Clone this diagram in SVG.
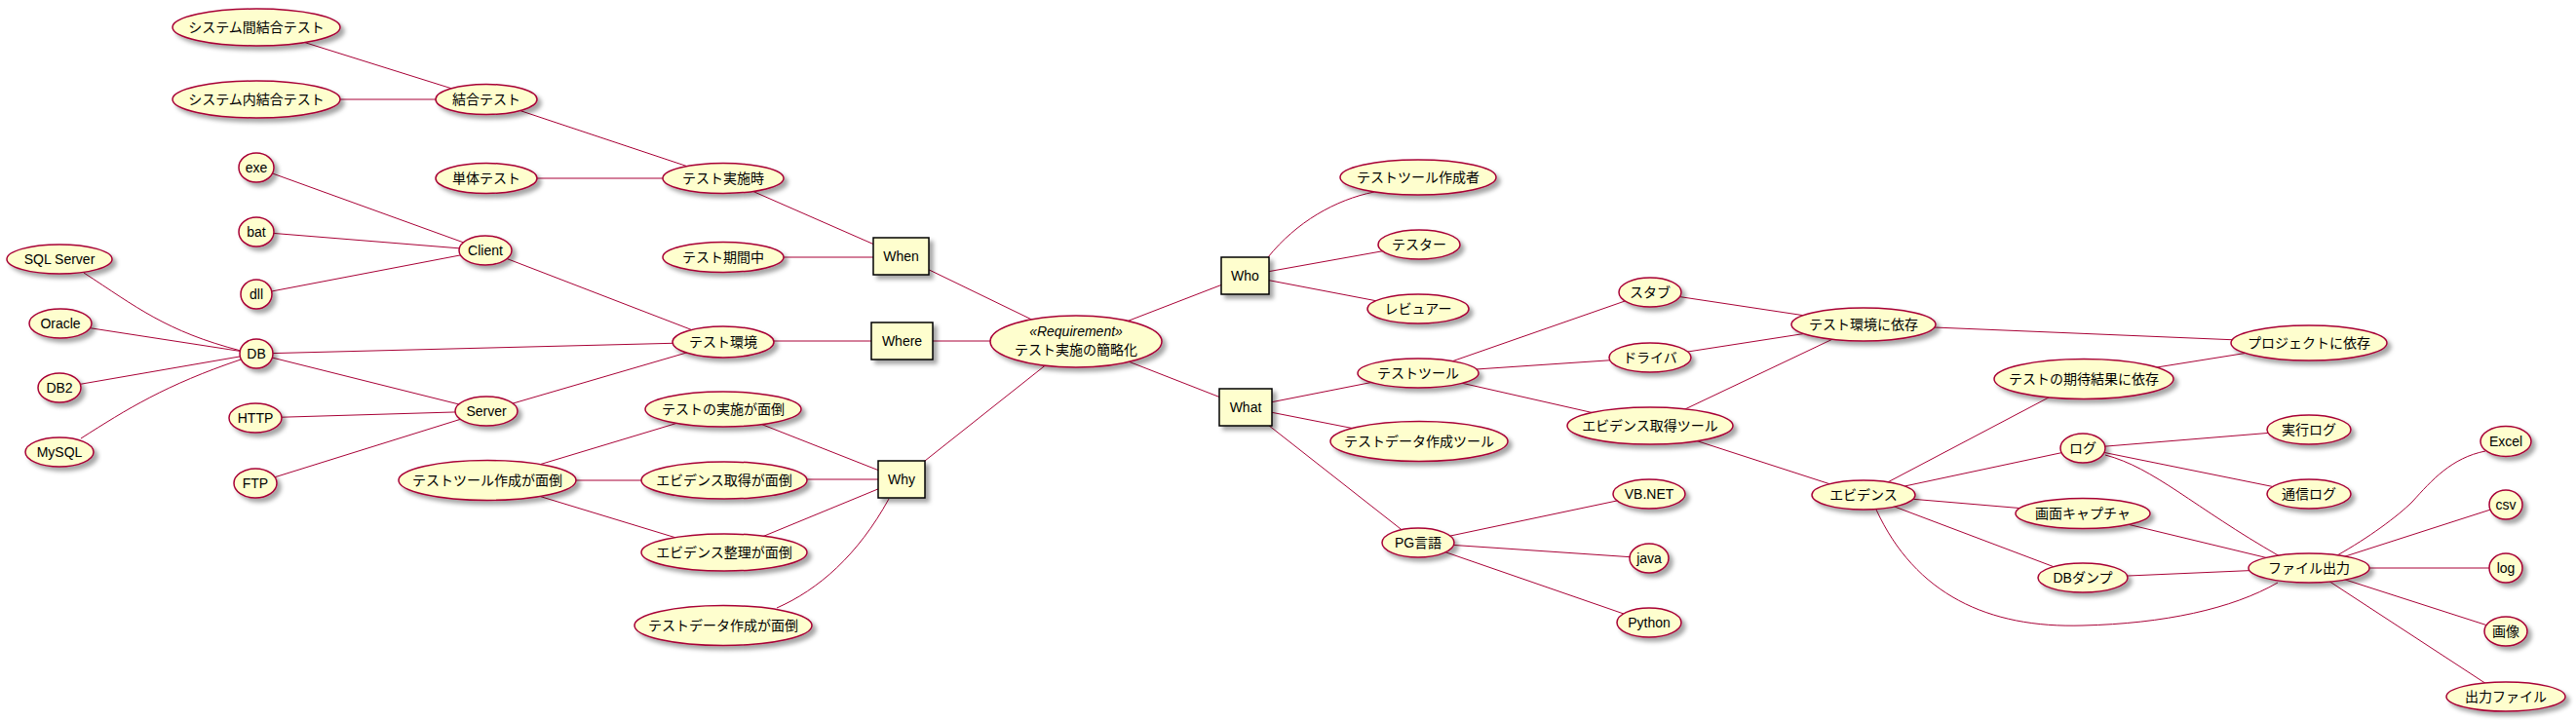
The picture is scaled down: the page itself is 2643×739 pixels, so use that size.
<svg xmlns="http://www.w3.org/2000/svg" width="2643" height="739" viewBox="0 0 2643 739">
<defs>
<filter id="sh" x="-20%" y="-30%" width="150%" height="180%">
<feGaussianBlur in="SourceAlpha" stdDeviation="2" result="b"/>
<feColorMatrix in="b" type="matrix" values="0 0 0 0 0  0 0 0 0 0  0 0 0 0 0  0 0 0 0.35 0" result="c"/>
<feOffset in="c" dx="4" dy="4" result="o"/>
<feMerge><feMergeNode in="o"/><feMergeNode in="SourceGraphic"/></feMerge>
</filter>
</defs>
<style>
.uc{fill:#FEFECE;stroke:#A80036;stroke-width:1.5;filter:url(#sh)}
.bx{fill:#FEFECE;stroke:#000000;stroke-width:1.5;filter:url(#sh)}
.t{font-family:"Liberation Sans","Noto Sans CJK JP",sans-serif;font-size:14px;text-anchor:middle;fill:#000000}
.i{font-style:italic}
.e line,.e path{stroke:#A80036;stroke-width:1;fill:none}
</style>
<rect width="2643" height="739" fill="#FFFFFF"/>
<g id="connectors" class="e">
<line x1="263" y1="28" x2="499" y2="102"/>
<line x1="263" y1="102" x2="499" y2="102"/>
<line x1="499" y1="102" x2="742" y2="183"/>
<line x1="499" y1="183" x2="742" y2="183"/>
<line x1="742" y1="183" x2="924.5" y2="263"/>
<line x1="742" y1="264" x2="924.5" y2="264"/>
<line x1="924.5" y1="263" x2="1104" y2="350"/>
<line x1="263" y1="172" x2="498" y2="257"/>
<line x1="263" y1="238" x2="498" y2="257"/>
<line x1="263" y1="302" x2="498" y2="257"/>
<line x1="498" y1="257" x2="742" y2="351"/>
<path d="M86,280 C140,315 170,340 247,360"/>
<line x1="62" y1="332" x2="263" y2="363"/>
<line x1="61" y1="398" x2="263" y2="363"/>
<path d="M83,450 C130,420 170,395 247,369"/>
<line x1="263" y1="363" x2="742" y2="351"/>
<line x1="263" y1="363" x2="499" y2="422"/>
<line x1="262" y1="429" x2="499" y2="422"/>
<line x1="262" y1="496" x2="499" y2="422"/>
<line x1="499" y1="422" x2="742" y2="351"/>
<line x1="742" y1="350" x2="925.5" y2="350"/>
<line x1="925.5" y1="350" x2="1104" y2="350"/>
<line x1="500" y1="493" x2="742" y2="420"/>
<line x1="500" y1="493" x2="743" y2="493"/>
<line x1="500" y1="493" x2="743" y2="567"/>
<line x1="742" y1="420" x2="925" y2="492"/>
<line x1="743" y1="492" x2="925" y2="492"/>
<line x1="743" y1="567" x2="925" y2="492"/>
<path d="M797,624 C840,605 880,570 912,512"/>
<line x1="925" y1="492" x2="1104" y2="350"/>
<line x1="1104" y1="350" x2="1277.5" y2="283"/>
<line x1="1104" y1="350" x2="1278" y2="418"/>
<path d="M1301,264 C1330,228 1370,205 1410,197"/>
<line x1="1277.5" y1="283" x2="1456" y2="251"/>
<line x1="1277.5" y1="283" x2="1455" y2="317"/>
<line x1="1278" y1="418" x2="1455" y2="383"/>
<line x1="1278" y1="418" x2="1456" y2="453"/>
<line x1="1278" y1="418" x2="1455" y2="557"/>
<line x1="1455" y1="383" x2="1693" y2="300"/>
<line x1="1455" y1="383" x2="1693" y2="367"/>
<line x1="1455" y1="383" x2="1693" y2="437"/>
<line x1="1455" y1="557" x2="1692" y2="507"/>
<line x1="1455" y1="557" x2="1692" y2="573"/>
<line x1="1455" y1="557" x2="1692" y2="639"/>
<line x1="1693" y1="300" x2="1912" y2="333"/>
<line x1="1693" y1="367" x2="1912" y2="333"/>
<line x1="1693" y1="437" x2="1912" y2="333"/>
<line x1="1693" y1="437" x2="1912" y2="508"/>
<line x1="1912" y1="333" x2="2369" y2="352"/>
<line x1="2138" y1="389" x2="2369" y2="352"/>
<line x1="1912" y1="508" x2="2138" y2="389"/>
<line x1="1912" y1="508" x2="2137" y2="460"/>
<line x1="1912" y1="508" x2="2137" y2="527"/>
<line x1="1912" y1="508" x2="2137" y2="593"/>
<path d="M1925,523 C1965,610 2040,645 2137,642 C2220,640 2290,625 2337,598"/>
<line x1="2137" y1="460" x2="2369" y2="441"/>
<line x1="2137" y1="460" x2="2369" y2="507"/>
<path d="M2160,467 C2210,480 2250,520 2339,571"/>
<line x1="2137" y1="527" x2="2369" y2="583"/>
<line x1="2137" y1="593" x2="2369" y2="583"/>
<path d="M2398,570 C2430,552 2460,530 2475,515 C2495,493 2515,470 2550,463"/>
<line x1="2369" y1="583" x2="2571" y2="518"/>
<line x1="2369" y1="583" x2="2571" y2="583"/>
<line x1="2369" y1="583" x2="2571" y2="648"/>
<line x1="2369" y1="583" x2="2571" y2="715"/>
</g>
<g id="nodes">
<g id="n-sqlserver"><ellipse class="uc" cx="61" cy="266" rx="54" ry="15"/><text class="t" x="61" y="271">SQL Server</text></g>
<g id="n-oracle"><ellipse class="uc" cx="62" cy="332" rx="32" ry="15"/><text class="t" x="62" y="337">Oracle</text></g>
<g id="n-db2"><ellipse class="uc" cx="61" cy="398" rx="22" ry="15"/><text class="t" x="61" y="403">DB2</text></g>
<g id="n-mysql"><ellipse class="uc" cx="61" cy="464" rx="35" ry="15"/><text class="t" x="61" y="469">MySQL</text></g>
<g id="n-sysbetween"><ellipse class="uc" cx="263" cy="28" rx="86" ry="19"/><text class="t" x="263" y="33">システム間結合テスト</text></g>
<g id="n-sysinner"><ellipse class="uc" cx="263" cy="102" rx="86" ry="19"/><text class="t" x="263" y="107">システム内結合テスト</text></g>
<g id="n-exe"><ellipse class="uc" cx="263" cy="172" rx="18" ry="15"/><text class="t" x="263" y="177">exe</text></g>
<g id="n-bat"><ellipse class="uc" cx="263" cy="238" rx="18" ry="15"/><text class="t" x="263" y="243">bat</text></g>
<g id="n-dll"><ellipse class="uc" cx="263" cy="302" rx="16" ry="15"/><text class="t" x="263" y="307">dll</text></g>
<g id="n-db"><ellipse class="uc" cx="263" cy="363" rx="17" ry="15"/><text class="t" x="263" y="368">DB</text></g>
<g id="n-http"><ellipse class="uc" cx="262" cy="429" rx="27" ry="15"/><text class="t" x="262" y="434">HTTP</text></g>
<g id="n-ftp"><ellipse class="uc" cx="262" cy="496" rx="22" ry="15"/><text class="t" x="262" y="501">FTP</text></g>
<g id="n-ketsugo"><ellipse class="uc" cx="499" cy="102" rx="52" ry="15.5"/><text class="t" x="499" y="107">結合テスト</text></g>
<g id="n-tantai"><ellipse class="uc" cx="499" cy="183" rx="52" ry="15.5"/><text class="t" x="499" y="188">単体テスト</text></g>
<g id="n-client"><ellipse class="uc" cx="498" cy="257" rx="27" ry="15"/><text class="t" x="498" y="262">Client</text></g>
<g id="n-server"><ellipse class="uc" cx="499" cy="422" rx="32" ry="15"/><text class="t" x="499" y="427">Server</text></g>
<g id="n-toolmendo"><ellipse class="uc" cx="500" cy="493" rx="91" ry="20.5"/><text class="t" x="500" y="498">テストツール作成が面倒</text></g>
<g id="n-jisshiji"><ellipse class="uc" cx="742" cy="183" rx="62" ry="15.5"/><text class="t" x="742" y="188">テスト実施時</text></g>
<g id="n-kikan"><ellipse class="uc" cx="742" cy="264" rx="62" ry="15.5"/><text class="t" x="742" y="269">テスト期間中</text></g>
<g id="n-kankyo"><ellipse class="uc" cx="742" cy="351" rx="52" ry="16"/><text class="t" x="742" y="356">テスト環境</text></g>
<g id="n-jisshimendo"><ellipse class="uc" cx="742" cy="420" rx="80" ry="18"/><text class="t" x="742" y="425">テストの実施が面倒</text></g>
<g id="n-evgetmendo"><ellipse class="uc" cx="743" cy="493" rx="85" ry="19"/><text class="t" x="743" y="498">エビデンス取得が面倒</text></g>
<g id="n-evorgmendo"><ellipse class="uc" cx="743" cy="567" rx="85" ry="19"/><text class="t" x="743" y="572">エビデンス整理が面倒</text></g>
<g id="n-datamendo"><ellipse class="uc" cx="742" cy="642" rx="91" ry="20.5"/><text class="t" x="742" y="647">テストデータ作成が面倒</text></g>
<g id="n-when"><rect class="bx" x="896" y="244" width="57" height="38"/><text class="t" x="924.5" y="268">When</text></g>
<g id="n-where"><rect class="bx" x="894" y="331" width="63" height="38"/><text class="t" x="925.5" y="355">Where</text></g>
<g id="n-why"><rect class="bx" x="901" y="473" width="48" height="38"/><text class="t" x="925" y="497">Why</text></g>
<g id="n-requirement"><ellipse class="uc" cx="1104" cy="350.5" rx="88" ry="26.5"/><text class="t i" x="1104" y="345">«Requirement»</text><text class="t" x="1104" y="364">テスト実施の簡略化</text></g>
<g id="n-who"><rect class="bx" x="1253" y="264" width="49" height="38"/><text class="t" x="1277.5" y="288">Who</text></g>
<g id="n-what"><rect class="bx" x="1251" y="399" width="54" height="38"/><text class="t" x="1278" y="423">What</text></g>
<g id="n-toolauthor"><ellipse class="uc" cx="1455" cy="182" rx="80" ry="18"/><text class="t" x="1455" y="187">テストツール作成者</text></g>
<g id="n-tester"><ellipse class="uc" cx="1456" cy="251" rx="42" ry="15"/><text class="t" x="1456" y="256">テスター</text></g>
<g id="n-reviewer"><ellipse class="uc" cx="1455" cy="317" rx="52" ry="15"/><text class="t" x="1455" y="322">レビュアー</text></g>
<g id="n-testtool"><ellipse class="uc" cx="1455" cy="383" rx="62" ry="15"/><text class="t" x="1455" y="388">テストツール</text></g>
<g id="n-datatool"><ellipse class="uc" cx="1456" cy="453" rx="91" ry="20.5"/><text class="t" x="1456" y="458">テストデータ作成ツール</text></g>
<g id="n-pg"><ellipse class="uc" cx="1455" cy="557" rx="37" ry="15"/><text class="t" x="1455" y="562">PG言語</text></g>
<g id="n-stub"><ellipse class="uc" cx="1693" cy="300" rx="32" ry="15"/><text class="t" x="1693" y="305">スタブ</text></g>
<g id="n-driver"><ellipse class="uc" cx="1693" cy="367" rx="42" ry="15"/><text class="t" x="1693" y="372">ドライバ</text></g>
<g id="n-evtool"><ellipse class="uc" cx="1693" cy="437" rx="85" ry="19"/><text class="t" x="1693" y="442">エビデンス取得ツール</text></g>
<g id="n-vbnet"><ellipse class="uc" cx="1692" cy="507" rx="37" ry="15"/><text class="t" x="1692" y="512">VB.NET</text></g>
<g id="n-java"><ellipse class="uc" cx="1692" cy="573" rx="20" ry="15"/><text class="t" x="1692" y="578">java</text></g>
<g id="n-python"><ellipse class="uc" cx="1692" cy="639" rx="33" ry="15"/><text class="t" x="1692" y="644">Python</text></g>
<g id="n-envdep"><ellipse class="uc" cx="1912" cy="333" rx="74" ry="17"/><text class="t" x="1912" y="338">テスト環境に依存</text></g>
<g id="n-evidence"><ellipse class="uc" cx="1912" cy="508" rx="53" ry="15"/><text class="t" x="1912" y="513">エビデンス</text></g>
<g id="n-expectdep"><ellipse class="uc" cx="2138" cy="389" rx="92" ry="20.5"/><text class="t" x="2138" y="394">テストの期待結果に依存</text></g>
<g id="n-log"><ellipse class="uc" cx="2137" cy="460" rx="23" ry="15"/><text class="t" x="2137" y="465">ログ</text></g>
<g id="n-capture"><ellipse class="uc" cx="2137" cy="527" rx="69" ry="15.5"/><text class="t" x="2137" y="532">画面キャプチャ</text></g>
<g id="n-dbdump"><ellipse class="uc" cx="2137" cy="593" rx="46" ry="15"/><text class="t" x="2137" y="598">DBダンプ</text></g>
<g id="n-projdep"><ellipse class="uc" cx="2369" cy="352" rx="80" ry="18"/><text class="t" x="2369" y="357">プロジェクトに依存</text></g>
<g id="n-execlog"><ellipse class="uc" cx="2369" cy="441" rx="43" ry="15"/><text class="t" x="2369" y="446">実行ログ</text></g>
<g id="n-commlog"><ellipse class="uc" cx="2369" cy="507" rx="43" ry="15"/><text class="t" x="2369" y="512">通信ログ</text></g>
<g id="n-fileout"><ellipse class="uc" cx="2369" cy="583" rx="62" ry="15"/><text class="t" x="2369" y="588">ファイル出力</text></g>
<g id="n-excel"><ellipse class="uc" cx="2571" cy="453" rx="26" ry="15.5"/><text class="t" x="2571" y="458">Excel</text></g>
<g id="n-csv"><ellipse class="uc" cx="2571" cy="518" rx="17" ry="15"/><text class="t" x="2571" y="523">csv</text></g>
<g id="n-logfile"><ellipse class="uc" cx="2571" cy="583" rx="17" ry="15"/><text class="t" x="2571" y="588">log</text></g>
<g id="n-gazou"><ellipse class="uc" cx="2571" cy="648" rx="22" ry="15"/><text class="t" x="2571" y="653">画像</text></g>
<g id="n-outfile"><ellipse class="uc" cx="2571" cy="715" rx="61" ry="15"/><text class="t" x="2571" y="720">出力ファイル</text></g>
</g>
</svg>
